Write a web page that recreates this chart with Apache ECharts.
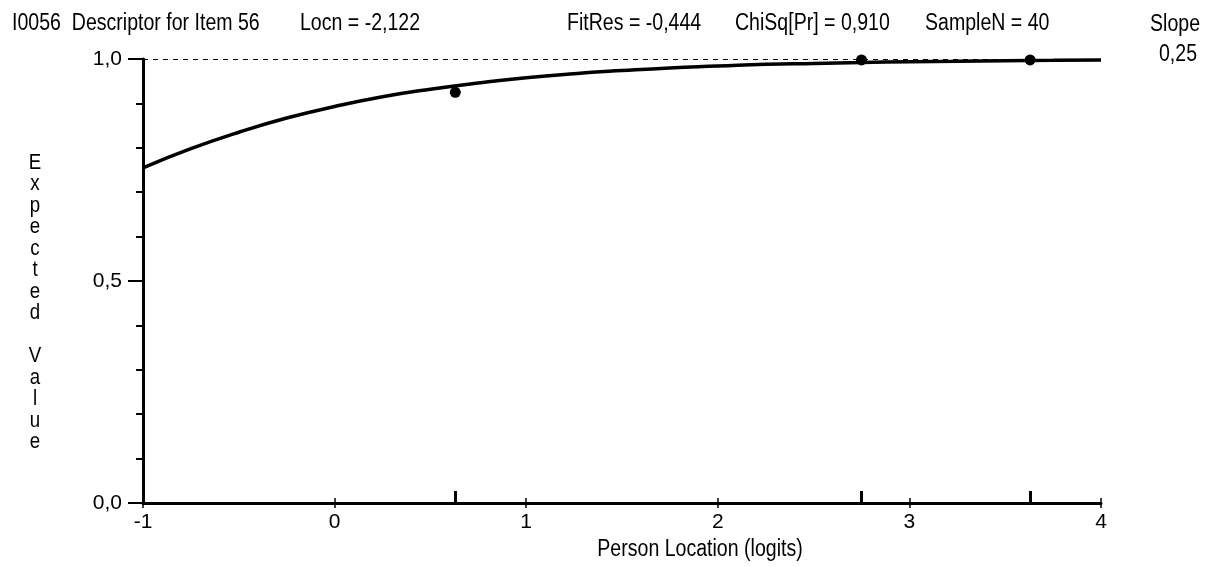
<!DOCTYPE html>
<html lang="en">
<head>
<meta charset="UTF-8">
<title>I0056 item characteristic curve</title>
<script src="https://cdn.jsdelivr.net/npm/echarts@6.0.0/dist/echarts.min.js"></script>
<style>
  html, body { margin: 0; padding: 0; background: #fff; }
  #chart { width: 1211px; height: 567px; }
</style>
</head>
<body>
<div id="chart"></div>
<script>
  // expected value curve
  const curveX = [-1, -0.75, -0.5, -0.25, 0, 0.25, 0.5, 0.75, 1, 1.25, 1.5, 1.75, 2, 2.25, 2.5, 2.75, 3, 3.25, 3.5, 3.75, 4];
  const curveY = [0.755, 0.798, 0.835, 0.867, 0.893, 0.915, 0.932, 0.946, 0.958, 0.967, 0.974, 0.980, 0.984, 0.988, 0.990, 0.992, 0.994, 0.995, 0.996, 0.997, 0.998];
  // observed class interval means
  const obsX = [0.63, 2.75, 3.63];
  const obsY = [0.925, 0.998, 0.998];
  const xTicks = [-1, 0, 1, 2, 3, 4];
  const yTicks = [0, 0.5, 1];

  const headerLeft = ['I0056  Descriptor for Item 56', 'Locn = -2,122'];
  const headerRight = ['FitRes = -0,444', 'ChiSq[Pr] = 0,910', 'SampleN = 40'];
  const slopeText = ['Slope', '0,25'];
  const yTitle = 'Expected Value';
  const xTitle = 'Person Location (logits)';

  const FONT = "'Liberation Sans', Arial, sans-serif";
  const FS = 23;      // annotation text, squeezed horizontally
  const SQ = 0.85;
  const AFS = 21;     // axis tick labels

  var chart = echarts.init(document.getElementById('chart'));

  // narrow text, like the old dialog font
  function txt(text, x, y, align, extra) {
    return {
      type: 'text',
      x: x, y: y,
      scaleX: SQ,
      style: Object.assign({
        text: text,
        fill: '#000',
        fontSize: FS, fontFamily: FONT,
        textAlign: align || 'left',
        textVerticalAlign: 'middle'
      }, extra || {})
    };
  }

  const headerX = [12, 300, 567, 735, 925];
  const headerAll = headerLeft.concat(headerRight);
  const graphics = headerAll.map((t, i) => txt(t, headerX[i], 24));
  graphics.push(txt(slopeText[0], 1200, 25, 'right'));
  graphics.push(txt(slopeText[1], 1197, 55, 'right'));
  graphics.push(txt(xTitle, 700, 550, 'center'));
  // y title: one letter per line, blank line between words
  graphics.push(txt(
    yTitle.split('').map(c => c === ' ' ? '' : c).join('\n'),
    35, 152, 'center',
    { textVerticalAlign: 'top', lineHeight: 21.5, fontSize: 22 }
  ));

  const baseX = {
    type: 'value', min: -1, max: 4, interval: 1,
    position: 'bottom', offset: 0,
    splitLine: { show: false }
  };

  var option = {
    animation: false,
    grid: { left: 143, right: 110, top: 59, bottom: 64, containLabel: false },
    xAxis: [
      Object.assign({}, baseX, {
        axisLine: { onZero: false, lineStyle: { color: '#000', width: 3 } },
        axisTick: { length: 5, lineStyle: { color: '#000', width: 1.5 } },
        axisLabel: {
          color: '#000', fontSize: AFS, fontFamily: FONT, margin: 9,
          customValues: xTicks
        }
      }),
      Object.assign({}, baseX, {
        axisLine: { show: false, onZero: false },
        axisTick: { inside: true, length: 5, lineStyle: { color: '#000', width: 1.5 } },
        axisLabel: { show: false }
      }),
      Object.assign({}, baseX, {
        axisLine: { show: false, onZero: false },
        axisTick: { inside: true, length: 12, customValues: obsX, lineStyle: { color: '#000', width: 3 } },
        axisLabel: { show: false }
      })
    ],
    yAxis: {
      type: 'value', min: 0, max: 1, interval: 0.5,
      axisLine: { show: true, onZero: false, lineStyle: { color: '#000', width: 3 } },
      axisTick: { show: true, length: 15, customValues: yTicks, lineStyle: { color: '#000', width: 2 } },
      minorTick: { show: true, splitNumber: 5, length: 7, lineStyle: { color: '#000', width: 2 } },
      axisLabel: {
        color: '#000', fontSize: AFS, fontFamily: FONT, margin: 21,
        formatter: v => v.toFixed(1).replace('.', ',')
      },
      splitLine: { show: false },
      minorSplitLine: { show: false }
    },
    series: [
      {
        type: 'line',
        xAxisIndex: 0,
        data: curveX.map((x, i) => [x, curveY[i]]),
        showSymbol: false,
        smooth: true,
        lineStyle: { color: '#000', width: 3.5 },
        markLine: {
          silent: true,
          symbol: ['none', 'none'],
          label: { show: false },
          lineStyle: { color: '#000', width: 1, type: [5, 5], opacity: 1 },
          data: [{ yAxis: 1 }]
        },
        z: 3
      },
      {
        type: 'scatter',
        xAxisIndex: 0,
        data: obsX.map((x, i) => [x, obsY[i]]),
        symbolSize: 11,
        itemStyle: { color: '#000', opacity: 1 },
        z: 4
      }
    ],
    graphic: graphics
  };

  chart.setOption(option);
</script>
</body>
</html>
